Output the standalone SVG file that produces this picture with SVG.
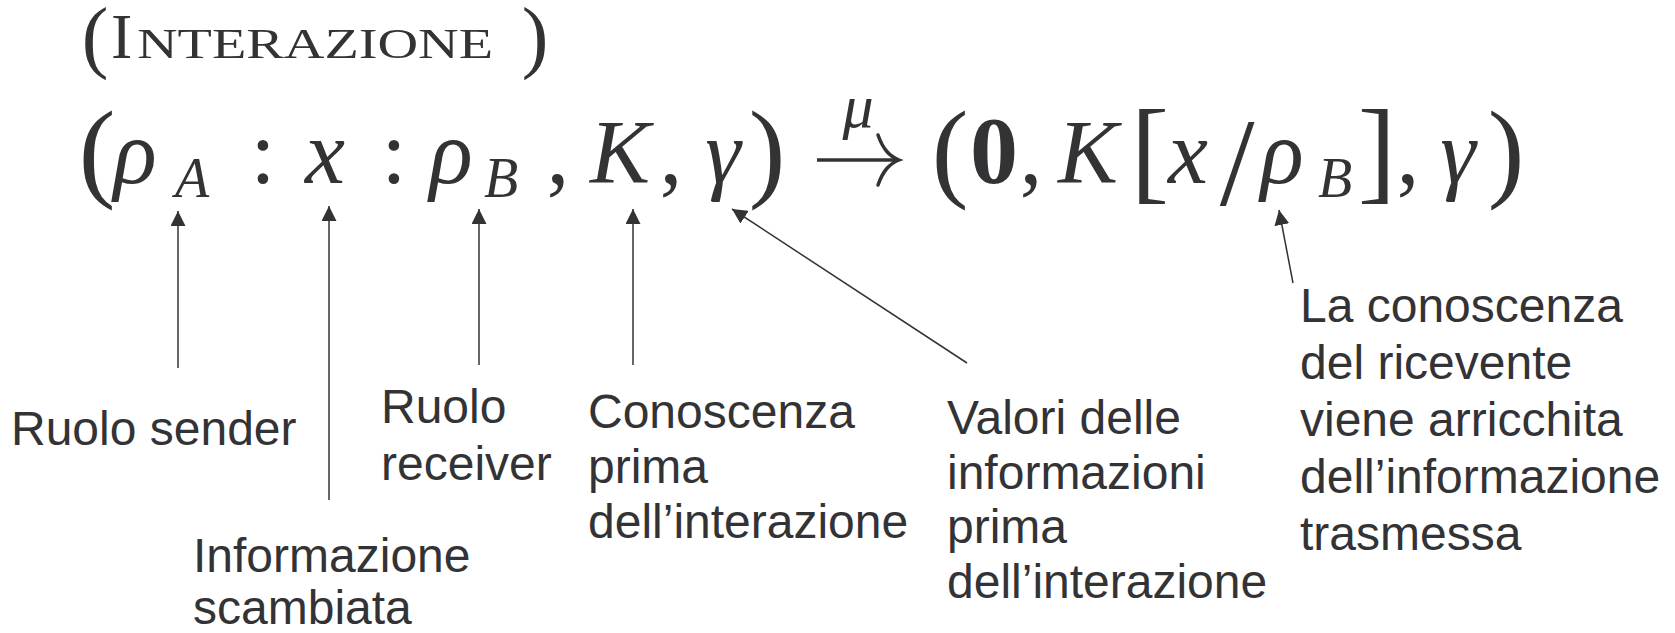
<svg xmlns="http://www.w3.org/2000/svg" width="1675" height="633" viewBox="0 0 1675 633">
<style>
.m{font-family:"Liberation Serif","Times New Roman",serif;fill:#333336;text-anchor:middle}
.it{font-style:italic;font-size:90px}
.sub{font-style:italic;font-size:56px}
.rm{font-size:90px}
.par{font-size:110px}
.lbl{font-family:"Liberation Sans",Arial,sans-serif;font-size:48px;fill:#333336}
.conn line{stroke:#333336;stroke-width:1.5;fill:none}
</style>
<defs>
<marker id="ah" markerUnits="userSpaceOnUse" markerWidth="15" markerHeight="15" refX="15" refY="7.5" orient="auto">
<path d="M0,0 L15,7.5 L0,15 z" fill="#333336"/>
</marker>
</defs>
<rect width="1675" height="633" fill="#ffffff"/>

<g id="title">
<text class="m" x="95" y="63" font-size="80">(</text>
<text font-family="Liberation Serif,serif" fill="#333336" x="111" y="58" font-size="64">I</text>
<text font-family="Liberation Serif,serif" fill="#333336" x="137" y="58" font-size="43" textLength="356" lengthAdjust="spacingAndGlyphs">NTERAZIONE</text>
<text class="m" x="535" y="63" font-size="80">)</text>
</g>

<g id="formula">
<text class="m par" x="97" y="187">(</text>
<text class="m it" x="135" y="183">ρ</text>
<text class="m sub" x="192" y="197">A</text>
<text class="m rm" x="263" y="183">:</text>
<text class="m it" x="325" y="183">x</text>
<text class="m rm" x="394" y="183">:</text>
<text class="m it" x="451" y="183">ρ</text>
<text class="m sub" x="501" y="197">B</text>
<text class="m rm" x="558" y="183">,</text>
<text class="m it" x="620" y="183">K</text>
<text class="m rm" x="671" y="183">,</text>
<text class="m it" x="723" y="183">γ</text>
<text class="m par" x="767" y="187">)</text>
<g id="arrow-mu">
<path d="M817,160 L897,160" stroke="#333336" stroke-width="3.5" fill="none"/>
<path d="M878,135 C883,149 889,156 899,160 C889,164 883,171 878,185" stroke="#333336" stroke-width="3.5" fill="none" stroke-linecap="round"/>
<text class="m" x="858" y="127" font-size="62" font-style="italic">μ</text>
</g>
<text class="m par" x="950" y="187">(</text>
<text class="m" x="994" y="183" font-size="96" font-weight="bold">0</text>
<text class="m rm" x="1031" y="183">,</text>
<text class="m it" x="1088" y="183">K</text>
<text class="m" x="1150" y="189" font-size="115">[</text>
<text class="m it" x="1188" y="183">x</text>
<text class="m" x="1237" y="205" font-size="125">/</text>
<text class="m it" x="1282" y="183">ρ</text>
<text class="m sub" x="1335" y="197">B</text>
<text class="m" x="1377" y="189" font-size="115">]</text>
<text class="m rm" x="1408" y="183">,</text>
<text class="m it" x="1458" y="183">γ</text>
<text class="m par" x="1506" y="187">)</text>
</g>

<g id="lbl-sender"><text class="lbl" x="11" y="445">Ruolo sender</text></g>
<g id="lbl-info"><text class="lbl" x="193" y="572">Informazione</text><text class="lbl" x="193" y="624">scambiata</text></g>
<g id="lbl-receiver"><text class="lbl" x="381" y="423">Ruolo</text><text class="lbl" x="381" y="480">receiver</text></g>
<g id="lbl-conoscenza"><text class="lbl" x="588" y="428">Conoscenza</text><text class="lbl" x="588" y="483">prima</text><text class="lbl" x="588" y="538">dell’interazione</text></g>
<g id="lbl-valori"><text class="lbl" x="947" y="434">Valori delle</text><text class="lbl" x="947" y="489">informazioni</text><text class="lbl" x="947" y="543">prima</text><text class="lbl" x="947" y="598">dell’interazione</text></g>
<g id="lbl-ricevente"><text class="lbl" x="1300" y="322">La conoscenza</text><text class="lbl" x="1300" y="379">del ricevente</text><text class="lbl" x="1300" y="436">viene arricchita</text><text class="lbl" x="1300" y="493">dell’informazione</text><text class="lbl" x="1300" y="550">trasmessa</text></g>

<g id="connectors" class="conn">
<line x1="178" y1="368" x2="178" y2="211" marker-end="url(#ah)"/>
<line x1="329" y1="500" x2="329" y2="206" marker-end="url(#ah)"/>
<line x1="479" y1="365" x2="479" y2="209" marker-end="url(#ah)"/>
<line x1="633" y1="365" x2="633" y2="209" marker-end="url(#ah)"/>
<line x1="967" y1="363" x2="732" y2="209" marker-end="url(#ah)"/>
<line x1="1293" y1="283" x2="1279" y2="210" marker-end="url(#ah)"/>
</g>
</svg>
